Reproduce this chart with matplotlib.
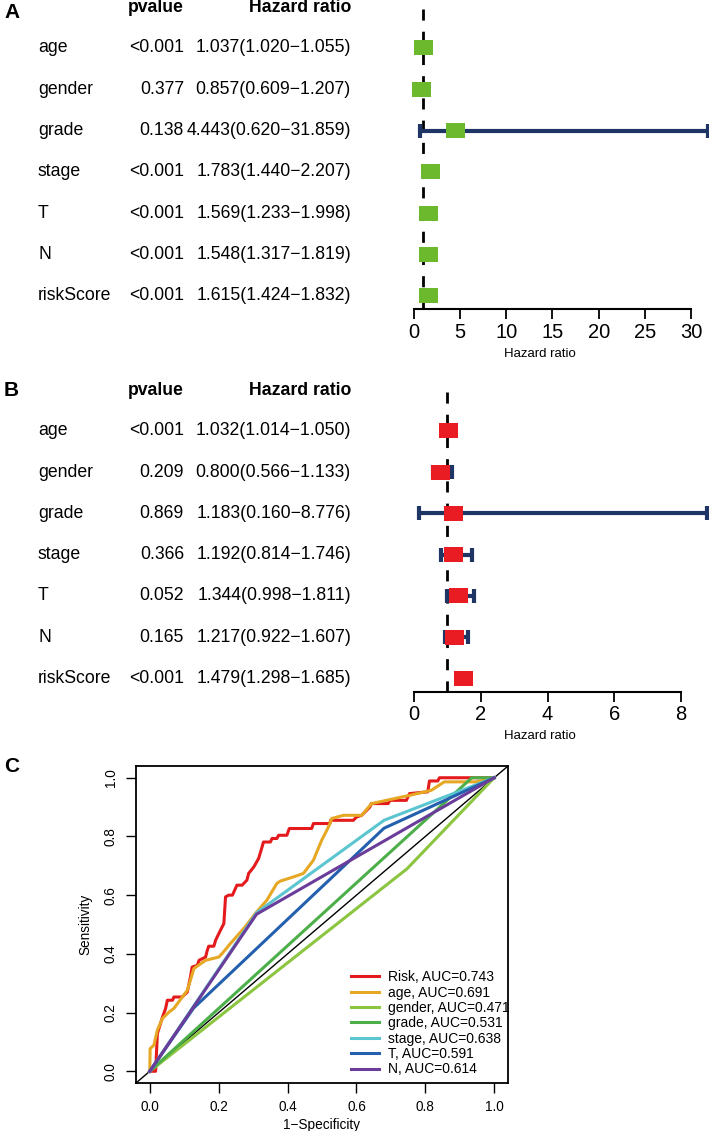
import numpy as np
import matplotlib
matplotlib.use("Agg")
import matplotlib.pyplot as plt
from matplotlib.patches import Rectangle
from matplotlib import transforms

plt.rcParams['font.family'] = ['Liberation Sans', 'DejaVu Sans']

variables = ["age", "gender", "grade", "stage", "T", "N", "riskScore"]

# A: univariate cox
uni_p = ["<0.001", "0.377", "0.138", "<0.001", "<0.001", "<0.001", "<0.001"]
uni_hr = [1.037, 0.857, 4.443, 1.783, 1.569, 1.548, 1.615]
uni_low = [1.020, 0.609, 0.620, 1.440, 1.233, 1.317, 1.424]
uni_high = [1.055, 1.207, 31.859, 2.207, 1.998, 1.819, 1.832]
uni_ticks = [0, 5, 10, 15, 20, 25, 30]

# B: multivariate cox
multi_p = ["<0.001", "0.209", "0.869", "0.366", "0.052", "0.165", "<0.001"]
multi_hr = [1.032, 0.800, 1.183, 1.192, 1.344, 1.217, 1.479]
multi_low = [1.014, 0.566, 0.160, 0.814, 0.998, 0.922, 1.298]
multi_high = [1.050, 1.133, 8.776, 1.746, 1.811, 1.607, 1.685]
multi_ticks = [0, 2, 4, 6, 8]

# C: ROC curves
risk_fpr = [0, 0.017, 0.022, 0.037, 0.046, 0.051, 0.066, 0.07, 0.094, 0.109, 0.118, 0.123,
            0.138, 0.143, 0.162, 0.167, 0.171, 0.186, 0.191, 0.205, 0.215, 0.22, 0.229, 0.24,
            0.253, 0.268, 0.282, 0.287, 0.302, 0.316, 0.326, 0.33, 0.35, 0.355, 0.369, 0.374,
            0.398, 0.405, 0.47, 0.475, 0.523, 0.525, 0.591, 0.6, 0.615, 0.639, 0.643, 0.692,
            0.697, 0.745, 0.754, 0.807, 0.812, 0.836, 0.841, 1.0]
risk_tpr = [0, 0, 0.128, 0.185, 0.214, 0.242, 0.242, 0.253, 0.253, 0.27, 0.321, 0.355,
            0.361, 0.378, 0.389, 0.412, 0.426, 0.426, 0.446, 0.48, 0.503, 0.594, 0.6, 0.6,
            0.634, 0.634, 0.651, 0.674, 0.696, 0.725, 0.764, 0.781, 0.781, 0.793, 0.793, 0.804,
            0.804, 0.827, 0.827, 0.844, 0.844, 0.855, 0.855, 0.866, 0.872, 0.9, 0.912, 0.912,
            0.923, 0.923, 0.946, 0.952, 0.989, 0.989, 1.0, 1.0]
age_fpr = [0, 0.001, 0.012, 0.022, 0.037, 0.056, 0.07, 0.109, 0.118, 0.128, 0.162, 0.2,
           0.21, 0.234, 0.277, 0.306, 0.34, 0.369, 0.379, 0.417, 0.446, 0.475, 0.499, 0.514,
           0.523, 0.528, 0.562, 0.615, 0.644, 0.687, 0.754, 0.817, 0.855, 0.947, 1.0]
age_tpr = [0, 0.077, 0.089, 0.14, 0.18, 0.202, 0.214, 0.276, 0.31, 0.35, 0.378, 0.389,
           0.401, 0.435, 0.492, 0.537, 0.583, 0.64, 0.648, 0.662, 0.674, 0.719, 0.787, 0.821,
           0.844, 0.861, 0.872, 0.872, 0.912, 0.923, 0.94, 0.957, 0.986, 0.986, 1.0]
gender_fpr = [0, 0.747, 1.0]
gender_tpr = [0, 0.69, 1.0]
grade_fpr = [0, 0.935, 1.0]
grade_tpr = [0, 1.0, 1.0]
stage_fpr = [0, 0.31, 0.68, 1.0]
stage_tpr = [0, 0.54, 0.855, 1.0]
t_fpr = [0, 0.127, 0.68, 1.0]
t_tpr = [0, 0.215, 0.828, 1.0]
n_fpr = [0, 0.31, 1.0]
n_tpr = [0, 0.535, 1.0]

roc_names = ["Risk", "age", "gender", "grade", "stage", "T", "N"]
roc_auc = [0.743, 0.691, 0.471, 0.531, 0.638, 0.591, 0.614]
roc_colors = ["#E41A1C", "#E6A824", "#8CC540", "#4DAF4A", "#5BC5D0", "#2460AE", "#6A3D9A"]

W, H = 709, 1131
fig = plt.figure(figsize=(W / 100, H / 100), dpi=100)
navy = "#1F3566"
fs = 12.7


def forest(ax, pv, hr, low, high, ticks, box_color):
    hr = np.array(hr)
    low = np.array(low)
    high = np.array(high)
    y = np.arange(len(variables))
    ax.set_ylim(6.32, -1.162)
    ax.axvline(1, color="black", ls=(0, (4, 4)), lw=2, zorder=1)
    ax.errorbar(hr, y, xerr=[hr - low, high - hr], fmt="none", ecolor=navy,
                elinewidth=3, capsize=5, capthick=3, zorder=2)
    x0, x1 = ax.get_xlim()
    bw = 19 * (x1 - x0) / 304
    bh = 15 / 41.3
    for h, yi in zip(hr, y):
        ax.add_patch(Rectangle((h - bw / 2, yi - bh / 2), bw, bh, color=box_color,
                               lw=0, zorder=3))
    for s in ["top", "right", "left"]:
        ax.spines[s].set_visible(False)
    ax.spines["bottom"].set_linewidth(1.5)
    ax.spines["bottom"].set_bounds(ticks[0], ticks[-1])
    ax.set_yticks([])
    ax.set_xticks(ticks)
    ax.tick_params(axis="x", length=7, width=1.3, labelsize=14.5, pad=3)
    ax.text(0.444, -0.145, "Hazard ratio", transform=ax.transAxes, ha="center",
            va="center", fontsize=9.5)

    tr = transforms.blended_transform_factory(fig.transFigure, ax.transData)
    ax.text(184 / W, -0.98, "pvalue", transform=tr, ha="right", va="center",
            fontsize=fs, fontweight="bold")
    ax.text(351 / W, -0.98, "Hazard ratio", transform=tr, ha="right", va="center",
            fontsize=fs, fontweight="bold")
    for i, name in enumerate(variables):
        ax.text(38 / W, i, name, transform=tr, ha="left", va="center", fontsize=fs)
        ax.text(184 / W, i, pv[i], transform=tr, ha="right", va="center", fontsize=fs)
        txt = f"{hr[i]:.3f}({low[i]:.3f}\u2212{high[i]:.3f})"
        ax.text(351 / W, i, txt, transform=tr, ha="right", va="center", fontsize=fs)


# A
axA = fig.add_axes([405 / W, 1 - 309 / H, 304 / W, 309 / H])
axA.set_xlim(-9 / 9.233, 295 / 9.233)
forest(axA, uni_p, uni_hr, uni_low, uni_high, uni_ticks, "#6CB92D")

# B
axB = fig.add_axes([405 / W, 1 - 691.5 / H, 304 / W, 308.5 / H])
axB.set_xlim(-9 / 33.375, 295 / 33.375)
forest(axB, multi_p, multi_hr, multi_low, multi_high, multi_ticks, "#E81C22")

# C
axC = fig.add_axes([136 / W, 1 - 1083 / H, 372 / W, 317 / H])
axC.axline((0, 0), slope=1, color="black", lw=1, zorder=1)
curves = [(risk_fpr, risk_tpr), (age_fpr, age_tpr), (gender_fpr, gender_tpr),
          (grade_fpr, grade_tpr), (stage_fpr, stage_tpr), (t_fpr, t_tpr), (n_fpr, n_tpr)]
for (fx, ty), name, auc, c in zip(curves, roc_names, roc_auc, roc_colors):
    axC.plot(fx, ty, color=c, lw=2.2, label=f"{name}, AUC={auc:.3f}")
axC.set_xlim(-0.04, 1.04)
axC.set_ylim(-0.04, 1.04)
ticks = np.arange(0, 1.01, 0.2)
axC.set_xticks(ticks)
axC.set_yticks(ticks)
axC.set_xticklabels([f"{t:.1f}" for t in ticks])
axC.set_yticklabels([f"{t:.1f}" for t in ticks], rotation=90, va="center")
axC.tick_params(length=7, width=1, labelsize=9.8)
axC.tick_params(axis="y", pad=6)
axC.tick_params(axis="x", pad=5)
for s in axC.spines.values():
    s.set_linewidth(1.3)
axC.set_xlabel("1\u2212Specificity", fontsize=9.8, labelpad=3)
axC.set_ylabel("Sensitivity", fontsize=9.8, labelpad=8)
axC.legend(loc="upper left", bbox_to_anchor=(0.578, 0.356), frameon=False, fontsize=10,
           handlelength=2.0, handletextpad=0.65, labelspacing=0.1, borderpad=0,
           borderaxespad=0)

for letter, ypx in [("A", 12), ("B", 391), ("C", 766)]:
    fig.text(4 / W, 1 - ypx / H, letter, fontsize=15, fontweight="bold", ha="left",
             va="center")

fig.savefig("out.png", dpi=100)
